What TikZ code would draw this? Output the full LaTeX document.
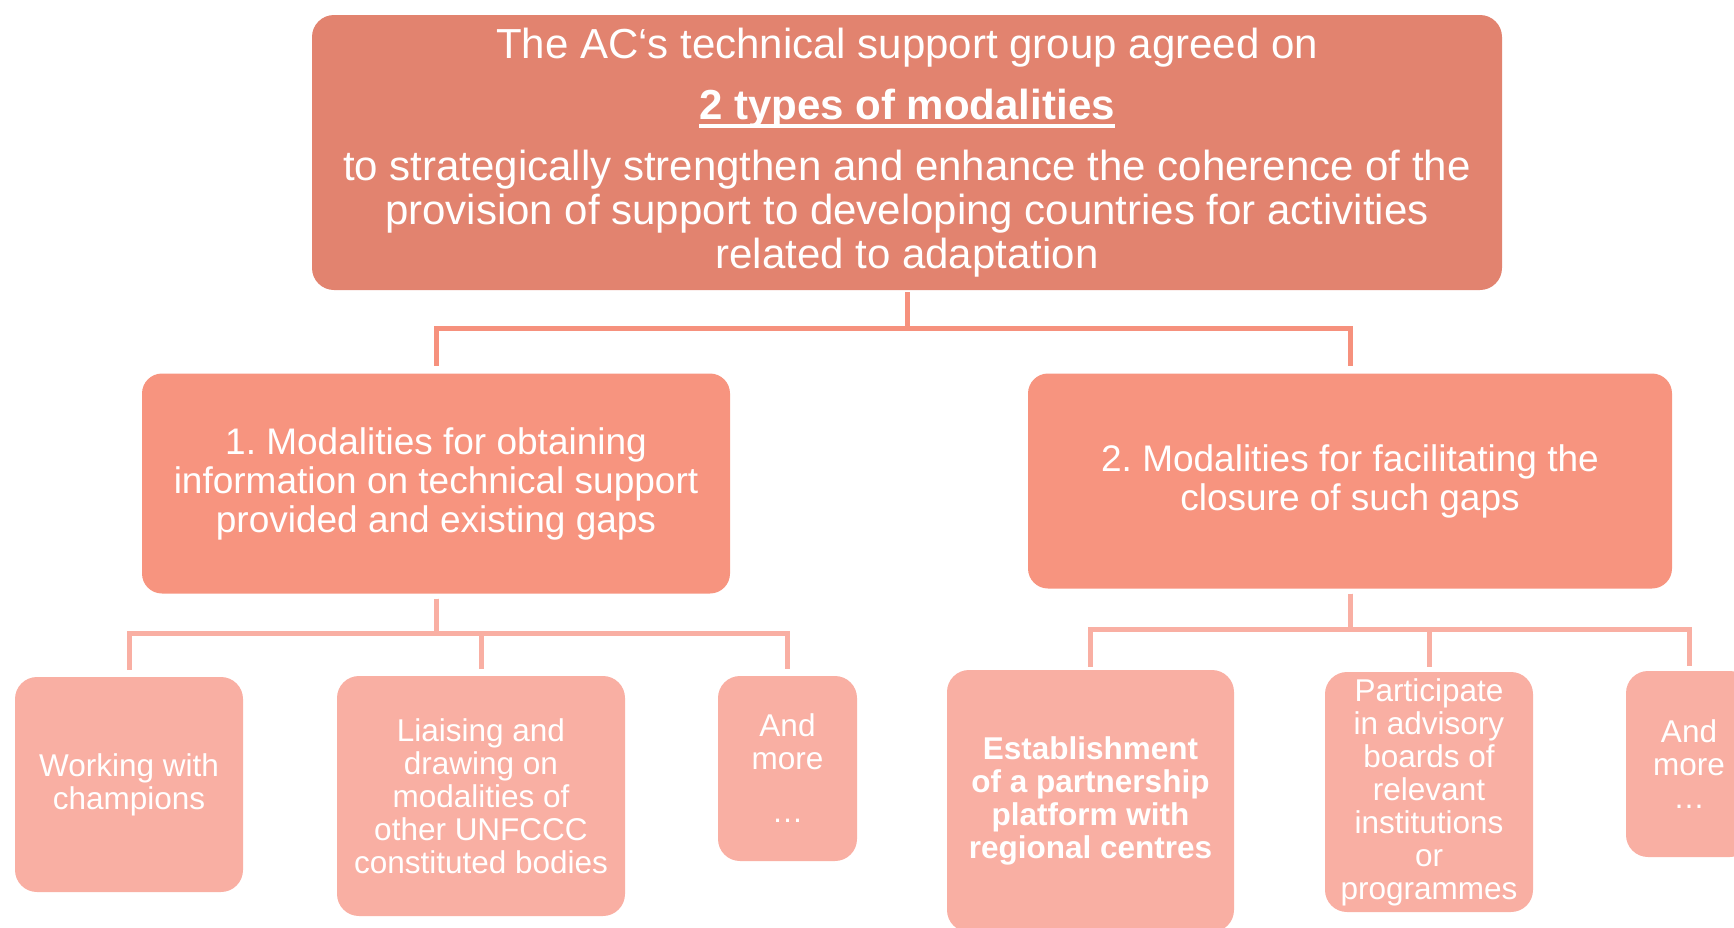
\documentclass[tikz,border=0pt]{standalone}
\usepackage{fontspec}
\setmainfont{Liberation Sans}
\frenchspacing
\definecolor{topfill}{HTML}{E2836F}
\definecolor{midfill}{HTML}{F7947F}
\definecolor{kidfill}{HTML}{F9AFA3}
\definecolor{conntop}{HTML}{F6917D}
\definecolor{connkid}{HTML}{F9AFA3}
\newcommand{\thickul}[1]{\setbox0\hbox{#1}\rlap{\rule[-8.5pt]{\wd0}{3.5pt}}\box0}
\begin{document}
\begin{tikzpicture}[x=1pt,y=-1pt,
  topbox/.style={rectangle,rounded corners=22pt,fill=topfill,text=white,align=center,inner sep=0pt,
     font=\fontsize{42}{44}\selectfont},
  midbox/.style={rectangle,rounded corners=20pt,fill=midfill,text=white,align=center,inner sep=0pt,
     font=\fontsize{37}{39}\selectfont},
  kidbox/.style={rectangle,rounded corners=22pt,fill=kidfill,text=white,align=center,inner sep=0pt,
     font=\fontsize{31.5}{33}\selectfont},
  conna/.style={draw=conntop,line width=5pt},
  connb/.style={draw=connkid,line width=5pt}
]
\useasboundingbox (0,0) rectangle (1734,927);
\clip (0,0) rectangle (1734,927);

\node[topbox,minimum width=1190pt,minimum height=275pt] (top) at (907,152.5)
  {The AC‘s technical support group agreed on\\[17pt]
   \textbf{\thickul{2 types of modalities}}\\[17pt]
   to strategically strengthen and enhance the coherence of the\\
   provision of support to developing countries for activities\\
   related to adaptation};

\node[midbox,minimum width=588pt,minimum height=220pt] (b1) at (436,483.5)
  {1. Modalities for obtaining\\information on technical support\\provided and existing gaps};
\node[midbox,minimum width=644pt,minimum height=215pt] (b2) at (1350,481)
  {2. Modalities for facilitating the\\closure of such gaps};

\node[kidbox,minimum width=228pt,minimum height=215pt] (c1) at (129,784.5)
  {Working with\\champions};
\node[kidbox,minimum width=288pt,minimum height=240pt] (c2) at (481,796)
  {Liaising and\\drawing on\\modalities of\\other UNFCCC\\constituted bodies};
\node[kidbox,minimum width=139pt,minimum height=185pt] (c3) at (787.5,768.5)
  {And\\more\\[20pt]\dots};

\node[kidbox,minimum width=287pt,minimum height=262pt,font=\fontsize{31.5}{33}\selectfont\bfseries] (d1) at (1090.5,801)
  {Establishment\\of a partnership\\platform with\\regional centres};
\node[kidbox,minimum width=208pt,minimum height=240pt] (d2) at (1429,792)
  {Participate\\in advisory\\boards of\\relevant\\institutions\\or\\programmes};
\node[kidbox,minimum width=126pt,minimum height=186pt] (d3) at (1689,764)
  {And\\more\\\dots};

% connectors
\draw[conna,shorten <=2pt,shorten >=7pt] (top.south) -- ++(0,38) -| (b1.north);
\draw[conna,shorten <=2pt,shorten >=7pt] (top.south) -- ++(0,38) -| (b2.north);

\draw[connb,shorten <=5pt,shorten >=7pt] (b1.south) -- ++(0,40) -| (c1.north);
\draw[connb,shorten <=5pt,shorten >=7pt] (b1.south) -- ++(0,40) -| (c2.north);
\draw[connb,shorten <=5pt,shorten >=7pt] (b1.south) -- ++(0,40) -| (c3.north);

\draw[connb,shorten <=5pt,shorten >=3pt] (b2.south) -- ++(0,41) -| (d1.north);
\draw[connb,shorten <=5pt,shorten >=5pt] (b2.south) -- ++(0,41) -| (d2.north);
\draw[connb,shorten <=5pt,shorten >=5pt] (b2.south) -- ++(0,41) -| (d3.north);
\end{tikzpicture}
\end{document}
